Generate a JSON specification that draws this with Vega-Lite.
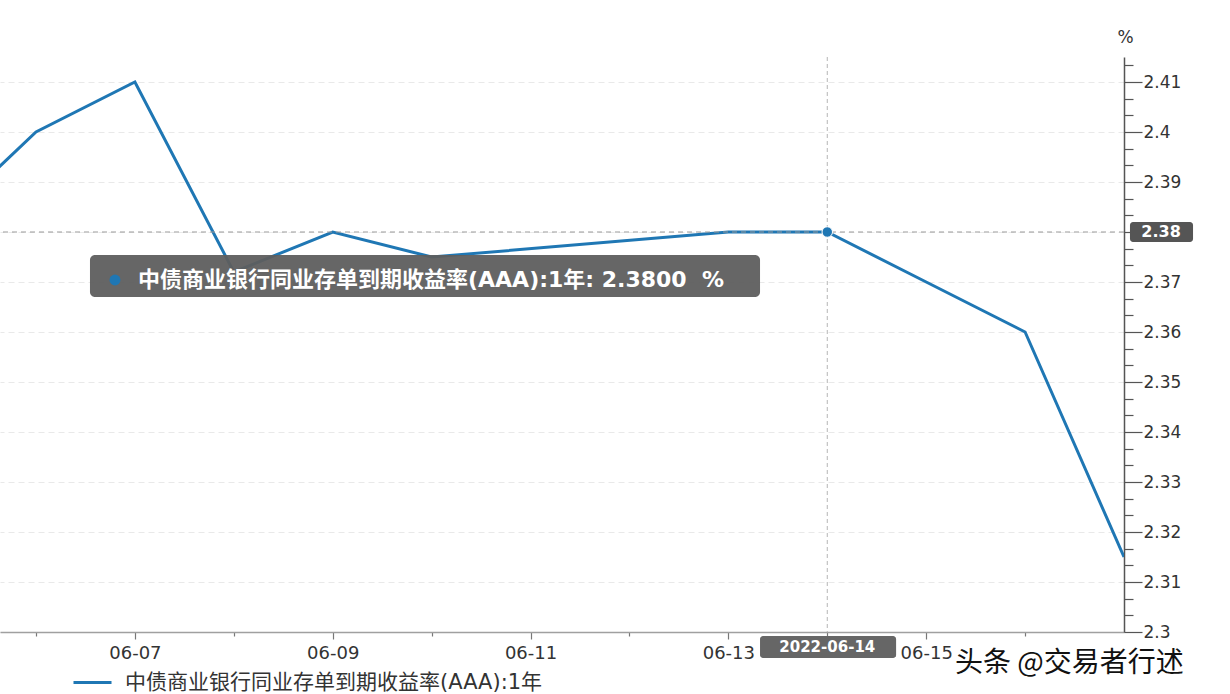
{
  "$schema": "https://vega.github.io/schema/vega-lite/v6.json",
  "width": 1124,
  "height": 575,
  "autosize": {"type": "none"},
  "padding": {"left": 0, "top": 57, "right": 106, "bottom": 62},
  "background": "#ffffff",
  "config": {"font": "DejaVu Sans, Noto Sans CJK SC", "view": {"stroke": null}},
  "datasets": {
    "series": [
      {"date": "2022-06-02T00:00:00", "value": 2.325, "name": "中债商业银行同业存单到期收益率(AAA):1年"},
      {"date": "2022-06-06T00:00:00", "value": 2.40, "name": "中债商业银行同业存单到期收益率(AAA):1年"},
      {"date": "2022-06-07T00:00:00", "value": 2.41, "name": "中债商业银行同业存单到期收益率(AAA):1年"},
      {"date": "2022-06-08T00:00:00", "value": 2.372, "name": "中债商业银行同业存单到期收益率(AAA):1年"},
      {"date": "2022-06-09T00:00:00", "value": 2.38, "name": "中债商业银行同业存单到期收益率(AAA):1年"},
      {"date": "2022-06-10T00:00:00", "value": 2.375, "name": "中债商业银行同业存单到期收益率(AAA):1年"},
      {"date": "2022-06-13T00:00:00", "value": 2.38, "name": "中债商业银行同业存单到期收益率(AAA):1年"},
      {"date": "2022-06-14T00:00:00", "value": 2.38, "name": "中债商业银行同业存单到期收益率(AAA):1年"},
      {"date": "2022-06-15T00:00:00", "value": 2.37, "name": "中债商业银行同业存单到期收益率(AAA):1年"},
      {"date": "2022-06-16T00:00:00", "value": 2.36, "name": "中债商业银行同业存单到期收益率(AAA):1年"},
      {"date": "2022-06-17T00:00:00", "value": 2.315, "name": "中债商业银行同业存单到期收益率(AAA):1年"}
    ],
    "hover": [
      {"date": "2022-06-14T00:00:00", "value": 2.38}
    ]
  },
  "layer": [
    {
      "data": {"name": "series"},
      "mark": {"type": "line", "strokeWidth": 3, "clip": true},
      "encoding": {
        "x": {
          "field": "date", "type": "temporal",
          "scale": {"domain": [{"year": 2022, "month": 6, "date": 5, "hours": 15, "minutes": 16}, {"year": 2022, "month": 6, "date": 17}], "nice": false},
          "axis": {
            "title": null, "grid": false, "tickCount": 40,
            "values": [
              {"year": 2022, "month": 6, "date": 6}, {"year": 2022, "month": 6, "date": 7},
              {"year": 2022, "month": 6, "date": 8}, {"year": 2022, "month": 6, "date": 9},
              {"year": 2022, "month": 6, "date": 10}, {"year": 2022, "month": 6, "date": 11},
              {"year": 2022, "month": 6, "date": 12}, {"year": 2022, "month": 6, "date": 13},
              {"year": 2022, "month": 6, "date": 14}, {"year": 2022, "month": 6, "date": 15},
              {"year": 2022, "month": 6, "date": 16}
            ],
            "labelExpr": "date(datum.value) % 2 == 1 ? timeFormat(datum.value, '%m-%d') : ''",
            "tickSize": {"condition": {"test": "date(datum.value) % 2 == 1", "value": 7}, "value": 4},
            "domainColor": "#a0a0a0", "domainWidth": 1.5,
            "tickColor": "#777", "tickWidth": 1.2,
            "labelFontSize": 18, "labelColor": "#333", "labelPadding": 5,
            "labelFlush": false, "labelOverlap": false
          }
        },
        "y": {
          "field": "value", "type": "quantitative",
          "scale": {"domain": [2.3, 2.415], "zero": false, "nice": false},
          "axis": {
            "orient": "right", "tickCount": 60,
            "title": "%", "titleAngle": 0, "titleX": 1, "titleY": -20,
            "titleAlign": "center", "titleBaseline": "middle",
            "titleFontSize": 17, "titleFontWeight": "normal", "titleColor": "#333",
            "values": [2.3, 2.303333, 2.306667, 2.31, 2.313333, 2.316667, 2.32, 2.323333, 2.326667, 2.33, 2.333333, 2.336667, 2.34, 2.343333, 2.346667, 2.35, 2.353333, 2.356667, 2.36, 2.363333, 2.366667, 2.37, 2.373333, 2.376667, 2.38, 2.383333, 2.386667, 2.39, 2.393333, 2.396667, 2.4, 2.403333, 2.406667, 2.41, 2.413333],
            "labelExpr": "abs(datum.value*100 - round(datum.value*100)) < 0.05 ? format(datum.value, '.2~f') : ''",
            "tickSize": {"condition": {"test": "abs(datum.value*100 - round(datum.value*100)) < 0.05", "value": 18}, "value": 9},
            "grid": true,
            "gridColor": "#e9e9e9", "gridDash": [6, 4], "gridWidth": 1,
            "gridOpacity": {"condition": {"test": "abs(datum.value*100 - round(datum.value*100)) < 0.05", "value": 1}, "value": 0},
            "domainColor": "#555", "domainWidth": 1.5,
            "tickColor": "#555", "tickWidth": 1.2,
            "labelFontSize": 17, "labelColor": "#333", "labelPadding": 1,
            "labelFlush": false, "labelOverlap": false, "labelBaseline": "middle"
          }
        },
        "color": {
          "field": "name", "type": "nominal",
          "scale": {"range": ["#1f77b4"]},
          "legend": {
            "orient": "none", "legendX": 72, "legendY": 605, "title": null,
            "symbolType": "stroke", "symbolSize": 1444, "symbolStrokeWidth": 3,
            "labelFontSize": 21, "labelColor": "#333", "labelLimit": 0,
            "padding": 0, "labelOffset": 12
          }
        }
      }
    },
    {
      "data": {"name": "hover"},
      "mark": {"type": "rule", "color": "#b5b5b5", "strokeDash": [4, 3], "strokeWidth": 1},
      "encoding": {"x": {"field": "date", "type": "temporal"}}
    },
    {
      "data": {"name": "hover"},
      "mark": {"type": "rule", "color": "#9a9a9a", "strokeDash": [5, 4], "strokeWidth": 1},
      "encoding": {"y": {"field": "value", "type": "quantitative"}}
    },
    {
      "data": {"name": "hover"},
      "mark": {"type": "point", "filled": true, "color": "#1f77b4", "size": 110, "opacity": 1, "stroke": "#ffffff", "strokeWidth": 1},
      "encoding": {
        "x": {"field": "date", "type": "temporal"},
        "y": {"field": "value", "type": "quantitative"}
      }
    },
    {
      "data": {"name": "hover"},
      "mark": {"type": "rect", "fill": "#5e5e5e", "opacity": 0.95, "cornerRadius": 5, "clip": false},
      "encoding": {
        "x": {"datum": {"year": 2022, "month": 6, "date": 6, "hours": 13, "minutes": 6}, "type": "temporal"},
        "x2": {"datum": {"year": 2022, "month": 6, "date": 13, "hours": 7, "minutes": 41}},
        "y": {"datum": 2.3754, "type": "quantitative"},
        "y2": {"datum": 2.367}
      }
    },
    {
      "data": {"name": "hover"},
      "mark": {"type": "point", "filled": true, "color": "#1f77b4", "size": 120, "opacity": 1, "clip": false},
      "encoding": {
        "x": {"datum": {"year": 2022, "month": 6, "date": 6, "hours": 19, "minutes": 10}, "type": "temporal"},
        "y": {"datum": 2.3704, "type": "quantitative"}
      }
    },
    {
      "data": {"name": "hover"},
      "mark": {"type": "text", "align": "left", "baseline": "middle", "fontSize": 22, "fontWeight": "bold", "fill": "#ffffff", "clip": false, "text": "中债商业银行同业存单到期收益率(AAA):1年: 2.3800\u00a0\u00a0%"},
      "encoding": {
        "x": {"datum": {"year": 2022, "month": 6, "date": 7, "hours": 0, "minutes": 45}, "type": "temporal"},
        "y": {"datum": 2.3704, "type": "quantitative"}
      }
    },
    {
      "data": {"name": "hover"},
      "mark": {"type": "rect", "fill": "#555555", "cornerRadius": 3, "clip": false},
      "encoding": {
        "x": {"datum": {"year": 2022, "month": 6, "date": 17, "hours": 1, "minutes": 27}, "type": "temporal"},
        "x2": {"datum": {"year": 2022, "month": 6, "date": 17, "hours": 16, "minutes": 45}},
        "y": {"datum": 2.382, "type": "quantitative"},
        "y2": {"datum": 2.378}
      }
    },
    {
      "data": {"name": "hover"},
      "mark": {"type": "text", "align": "center", "baseline": "middle", "fontSize": 16, "fontWeight": "bold", "fill": "#ffffff", "clip": false, "text": "2.38"},
      "encoding": {
        "x": {"datum": {"year": 2022, "month": 6, "date": 17, "hours": 8, "minutes": 59}, "type": "temporal"},
        "y": {"datum": 2.38, "type": "quantitative"}
      }
    },
    {
      "data": {"name": "hover"},
      "mark": {"type": "rect", "fill": "#666666", "cornerRadius": 3, "clip": false},
      "encoding": {
        "x": {"datum": {"year": 2022, "month": 6, "date": 13, "hours": 7, "minutes": 41}, "type": "temporal"},
        "x2": {"datum": {"year": 2022, "month": 6, "date": 14, "hours": 16, "minutes": 42}},
        "y": {"datum": 2.2992, "type": "quantitative"},
        "y2": {"datum": 2.2948}
      }
    },
    {
      "data": {"name": "hover"},
      "mark": {"type": "text", "align": "center", "baseline": "middle", "fontSize": 15, "fontWeight": "bold", "fill": "#ffffff", "clip": false, "text": "2022-06-14"},
      "encoding": {
        "x": {"datum": {"year": 2022, "month": 6, "date": 14, "hours": 0, "minutes": 0}, "type": "temporal"},
        "y": {"datum": 2.297, "type": "quantitative"}
      }
    },
    {
      "data": {"name": "hover"},
      "mark": {"type": "text", "align": "left", "baseline": "middle", "fontSize": 28, "fill": "#111111", "font": "Noto Sans CJK SC", "clip": false, "text": "头条 @交易者行述"},
      "encoding": {
        "x": {"datum": {"year": 2022, "month": 6, "date": 15, "hours": 7, "minutes": 0}, "type": "temporal"},
        "y": {"datum": 2.2937, "type": "quantitative"}
      }
    }
  ]
}
